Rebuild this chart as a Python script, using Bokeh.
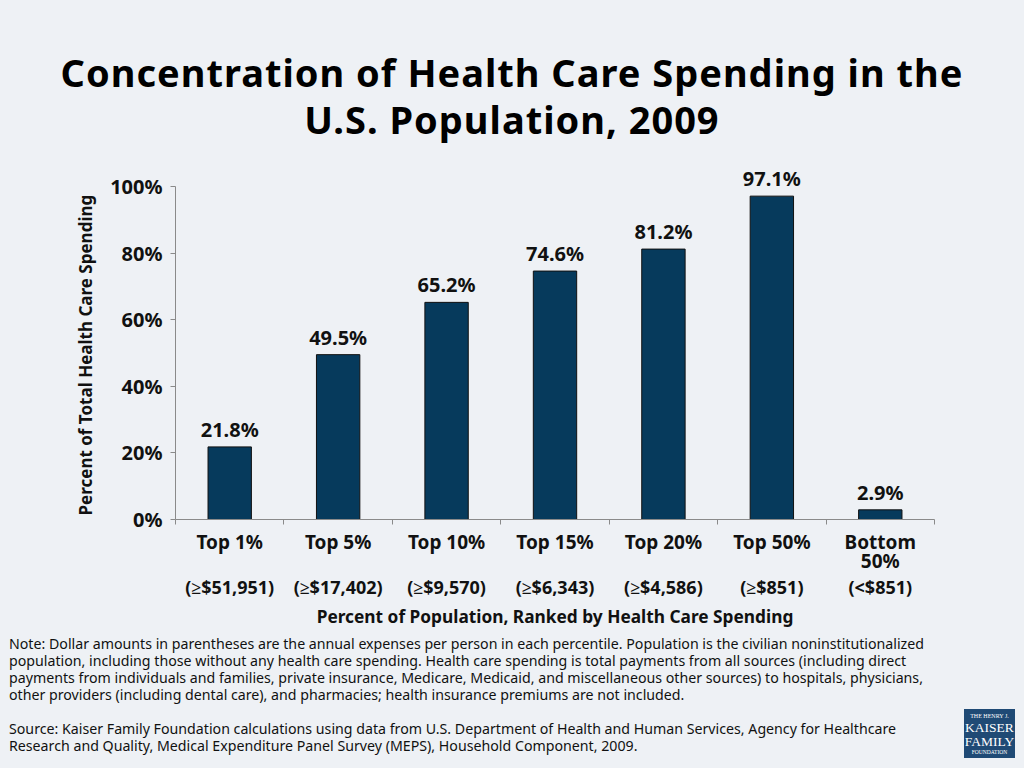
from bokeh.plotting import figure
from bokeh.models import (Range1d, FixedTicker, LinearAxis, LabelSet,
                          ColumnDataSource, Div, Title)
from bokeh.layouts import column, row
from bokeh.core.properties import value
from bokeh.embed import file_html
from bokeh.resources import INLINE

# ---------------- data ----------------
categories = ["Top 1%", "Top 5%", "Top 10%", "Top 15%", "Top 20%", "Top 50%", "Bottom\n50%"]
thresholds = ["(≥$51,951)", "(≥$17,402)", "(≥$9,570)", "(≥$6,343)", "(≥$4,586)", "(≥$851)", "(<$851)"]
shares = [21.8, 49.5, 65.2, 74.6, 81.2, 97.1, 2.9]
share_labels = ["21.8%", "49.5%", "65.2%", "74.6%", "81.2%", "97.1%", "2.9%"]
y_ticks = [0, 20, 40, 60, 80, 100]
y_tick_labels = ["0%", "20%", "40%", "60%", "80%", "100%"]

title_lines = ["Concentration of Health Care Spending in the", "U.S. Population, 2009"]
y_title = "Percent of Total Health Care Spending"
x_title = "Percent of Population, Ranked by Health Care Spending"
note_lines = [
    "Note: Dollar amounts in parentheses are the annual expenses per person in each percentile. Population is the civilian noninstitutionalized",
    "population, including those without any health care spending. Health care spending is total payments from all sources (including direct",
    "payments from individuals and families, private insurance, Medicare, Medicaid, and miscellaneous other sources) to hospitals, physicians,",
    "other providers (including dental care), and pharmacies; health insurance premiums are not included.",
]
source_lines = [
    "Source: Kaiser Family Foundation calculations using data from U.S. Department of Health and Human Services, Agency for Healthcare",
    "Research and Quality, Medical Expenditure Panel Survey (MEPS), Household Component, 2009.",
]
logo_lines = ["THE HENRY J.", "KAISER", "FAMILY", "FOUNDATION"]

# ---------------- styling ----------------
BG = "#eef1f5"
BAR = "#063a5c"
AXIS = "#8a8a8a"
TXT = "#111111"
FONT = "Noto Sans"

PAGE_W = 1008
TITLE_H = 142
FIG_H = 478
NOTES_H = 752 - TITLE_H - FIG_H
NOTES_W = 940

# ---------------- title ----------------
title_div = Div(
    text=('<div style="font-family:\'Noto Sans\';font-weight:bold;font-size:38px;'
          'letter-spacing:1px;line-height:47px;color:#000;text-align:center;'
          'width:1008px;padding-top:44px;padding-left:6px;box-sizing:border-box;">'
          + "<br>".join(title_lines) + "</div>"),
    width=PAGE_W, height=TITLE_H, styles={"background-color": BG})

# ---------------- chart ----------------
n = len(categories)
xs = [i + 0.5 for i in range(n)]

p = figure(width=PAGE_W, height=FIG_H, x_range=Range1d(0, n), y_range=Range1d(0, 106),
           output_backend="svg", toolbar_location=None,
           min_border_left=175, min_border_right=74,
           min_border_top=14, min_border_bottom=FIG_H - 14 - 355)
p.background_fill_color = BG
p.border_fill_color = BG
p.outline_line_color = None
p.xgrid.visible = False
p.ygrid.visible = False

src = ColumnDataSource(dict(x=xs, top=shares, lab=share_labels))
p.vbar(x="x", top="top", width=0.4, bottom=0, source=src,
       fill_color=BAR, line_color="#111111", line_width=1)

p.add_layout(LabelSet(x="x", y="top", text="lab", source=src,
                      text_align="center", text_baseline="bottom", y_offset=4,
                      text_font=value(FONT), text_font_style="bold",
                      text_font_size=value("20px"), text_color=TXT))

ya = p.yaxis[0]
ya.ticker = FixedTicker(ticks=y_ticks)
ya.bounds = (0, 100)
ya.major_label_overrides = {t: l for t, l in zip(y_ticks, y_tick_labels)}
ya.axis_line_color = AXIS
ya.major_tick_line_color = AXIS
ya.major_tick_in = 0
ya.major_tick_out = 5
ya.minor_tick_line_color = None
ya.major_label_standoff = 8
ya.major_label_text_font = FONT
ya.major_label_text_font_style = "bold"
ya.major_label_text_font_size = "20px"
ya.major_label_text_color = TXT

# y axis title as a left-side title, anchored at the bottom of the frame
p.add_layout(Title(text=y_title, align="left", offset=4, vertical_align="bottom",
                   standoff=22, text_font=FONT, text_font_style="bold",
                   text_font_size="17px", text_color=TXT), "left")

xa = p.xaxis[0]
xa.ticker = FixedTicker(ticks=xs, minor_ticks=list(range(n + 1)))
xa.major_label_overrides = {x: c for x, c in zip(xs, categories)}
xa.axis_line_color = AXIS
xa.major_tick_line_color = None
xa.minor_tick_line_color = AXIS
xa.minor_tick_in = 0
xa.minor_tick_out = 5
xa.major_label_standoff = 3
xa.major_label_text_font = FONT
xa.major_label_text_font_style = "bold"
xa.major_label_text_font_size = "19px"
xa.major_label_text_color = TXT
xa.major_label_text_line_height = 0.75

xa2 = LinearAxis(ticker=FixedTicker(ticks=xs),
                 major_label_overrides={x: t for x, t in zip(xs, thresholds)},
                 axis_line_color=None, major_tick_line_color=None,
                 minor_tick_line_color=None, major_tick_in=0, major_tick_out=0,
                 major_label_standoff=-3,
                 major_label_text_font=FONT, major_label_text_font_style="bold",
                 major_label_text_font_size="18px", major_label_text_color=TXT,
                 axis_label=x_title, axis_label_standoff=3,
                 axis_label_text_font=FONT, axis_label_text_font_style="bold",
                 axis_label_text_font_size="17.3px", axis_label_text_color=TXT)
p.add_layout(xa2, "below")

# ---------------- notes + logo ----------------
notes_html = "<br>".join(note_lines) + "<br><br>" + "<br>".join(source_lines)
notes_div = Div(
    text=('<div style="font-family:\'Noto Sans\';font-size:14.2px;line-height:17px;'
          'color:#111;white-space:nowrap;padding-left:4px;padding-top:0px;">'
          + notes_html + "</div>"),
    width=NOTES_W, height=NOTES_H, styles={"background-color": BG})

logo_inner = (
    '<div style="margin-left:9px;margin-top:74px;width:51px;height:49px;'
    'background-color:#1f4a75;color:#fff;font-family:\'Liberation Serif\';'
    'text-align:center;line-height:1;padding-top:4px;box-sizing:border-box;">'
    f'<div style="font-size:6px;">{logo_lines[0]}</div>'
    f'<div style="font-size:13.5px;margin-top:2px;">{logo_lines[1]}</div>'
    f'<div style="font-size:13.5px;">{logo_lines[2]}</div>'
    f'<div style="font-size:5.5px;margin-top:2px;">{logo_lines[3]}</div>'
    '</div>')
logo_div = Div(text=logo_inner, width=PAGE_W - NOTES_W, height=NOTES_H,
               styles={"background-color": BG})

layout = column(title_div, p, row(notes_div, logo_div, spacing=0,
                                  styles={"background-color": BG}),
                spacing=0, styles={"background-color": BG})

open("out.html", "w").write(file_html(layout, INLINE))
